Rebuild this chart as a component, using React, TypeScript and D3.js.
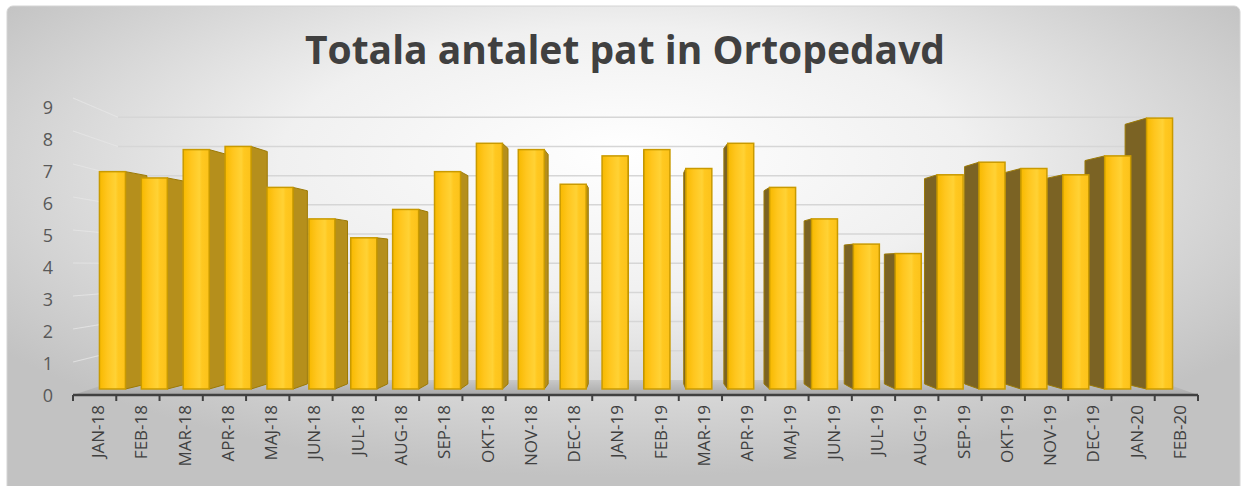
import React from "react";
import * as d3 from "d3";

const categories = [
  "JAN-18", "FEB-18", "MAR-18", "APR-18", "MAJ-18", "JUN-18", "JUL-18", "AUG-18",
  "SEP-18", "OKT-18", "NOV-18", "DEC-18", "JAN-19", "FEB-19", "MAR-19", "APR-19",
  "MAJ-19", "JUN-19", "JUL-19", "AUG-19", "SEP-19", "OKT-19", "NOV-19", "DEC-19",
  "JAN-20", "FEB-20",
];
const values = [
  6.9, 6.7, 7.6, 7.7, 6.4, 5.4, 4.8, 5.7, 6.9, 7.8, 7.6, 6.5, 7.4, 7.6, 7.0, 7.8,
  6.4, 5.4, 4.6, 4.3, 6.8, 7.2, 7.0, 6.8, 7.4, 8.6,
];
const yTicks = [0, 1, 2, 3, 4, 5, 6, 7, 8, 9];
const title = "Totala antalet pat in Ortopedavd";

const W = 1246;
const H = 486;
const VP = { x: 636, y: 267 };

export default function App() {
  const xBand = d3.scaleBand<string>().domain(categories).range([73, 1198]).padding(0);
  const yLabel = d3.scaleLinear().domain([0, 9]).range([395, 107]);
  const yBar = d3.scaleLinear().domain([0, 9]).range([389, 105.5]);
  const sxBar = 0.968;
  const barHalf = 13;
  const depthK = 0.958;
  const yWall = d3.scaleLinear().domain([0, 9]).range([380, 117.3]);
  const wallL = 118;
  const wallR = 1156;
  const yFrontWall = d3.scaleLinear().domain([0, 9]).range([395, 395 - 9 * 33]);

  const back = (x: number, y: number) => [VP.x + (x - VP.x) * depthK, VP.y + (y - VP.y) * depthK];

  const bars = categories.map((c, i) => {
    const cxFront = (xBand(c) as number) + xBand.bandwidth() / 2;
    const cx = VP.x + (cxFront - 635.5) * sxBar;
    const x0 = cx - barHalf;
    const x1 = cx + barHalf;
    const yt = yBar(values[i]);
    const yb = yBar(0);
    const leftSide = cx < VP.x;
    const ex = leftSide ? x1 : x0;
    const [bxT, byT] = back(ex, yt);
    const [bxB, byB] = back(ex, yb);
    const side = `M${ex},${yt}L${bxT},${byT}L${bxB},${byB}L${ex},${yb}Z`;
    return { c, i, cx, x0, x1, yt, yb, leftSide, side, dist: Math.abs(cx - VP.x) };
  });
  const order = [...bars].sort((a, b) => b.dist - a.dist);

  return (
    <svg width={W} height={H} style={{ position: "absolute", left: 0, top: 0 }}
      fontFamily="'Open Sans', sans-serif">
      <defs>
        <radialGradient id="bg" cx="50%" cy="35%" r="62%" fx="50%" fy="30%">
          <stop offset="0%" stopColor="#ffffff" />
          <stop offset="45%" stopColor="#f0f0f0" />
          <stop offset="100%" stopColor="#c2c2c2" />
        </radialGradient>
        <linearGradient id="front" x1="0" x2="1" y1="0" y2="0">
          <stop offset="0%" stopColor="#f7b900" />
          <stop offset="30%" stopColor="#ffc61e" />
          <stop offset="62%" stopColor="#ffd235" />
          <stop offset="72%" stopColor="#ffc820" />
          <stop offset="100%" stopColor="#fcc21a" />
        </linearGradient>
        <linearGradient id="floor" x1="0" x2="0" y1="0" y2="1">
          <stop offset="0%" stopColor="#c8c8c8" />
          <stop offset="100%" stopColor="#a8a8a8" />
        </linearGradient>
      </defs>
      <rect x={0} y={0} width={W} height={H} fill="#ffffff" />
      <rect x={7} y={6} width={1233} height={486} rx={6} fill="url(#bg)" stroke="#d4d4d4" />

      <text x={625} y={64} textAnchor="middle" fontSize={39} fontWeight="bold" fill="#404040">
        {title}
      </text>

      {yTicks.slice(1).map((t) => (
        <line key={"g" + t} x1={wallL} x2={wallR} y1={yWall(t)} y2={yWall(t)} stroke="#d6d6d6" strokeWidth={1.5} />
      ))}
      {yTicks.slice(1).map((t) => (
        <line key={"lw" + t} x1={73} y1={yFrontWall(t)} x2={wallL} y2={yWall(t)} stroke="#e6e6e6" strokeWidth={1.2} opacity={0.8} />
      ))}

      <path d={`M73,395L1198,395L${wallR},380L${wallL},380Z`} fill="url(#floor)" />

      {order.map((b) => (
        <g key={b.c}>
          <path d={b.side} fill={b.leftSide ? "#b58f1c" : "#7b6324"} stroke="#9c7a06" strokeWidth={1} strokeLinejoin="round" />
          <rect x={b.x0} y={b.yt} width={b.x1 - b.x0} height={b.yb - b.yt} fill="url(#front)" stroke="#c99a00" strokeWidth={1.5} />
        </g>
      ))}

      <line x1={73} x2={1198} y1={395} y2={395} stroke="#404040" strokeWidth={2.5} />
      {d3.range(categories.length + 1).map((k) => {
        const x = 73 + k * xBand.step();
        return <line key={"t" + k} x1={x} x2={x} y1={395} y2={401} stroke="#404040" strokeWidth={2} />;
      })}

      {yTicks.map((t) => (
        <text key={"y" + t} x={48} y={yLabel(t)} textAnchor="middle" dominantBaseline="central" fontSize={18} fill="#595959">
          {t}
        </text>
      ))}

      {categories.map((c) => {
        const x = (xBand(c) as number) + xBand.bandwidth() / 2 + 3;
        return (
          <text key={"x" + c} transform={`translate(${x},405) rotate(-90)`} textAnchor="end" dominantBaseline="central" fontSize={17} fill="#404040">
            {c}
          </text>
        );
      })}
    </svg>
  );
}
